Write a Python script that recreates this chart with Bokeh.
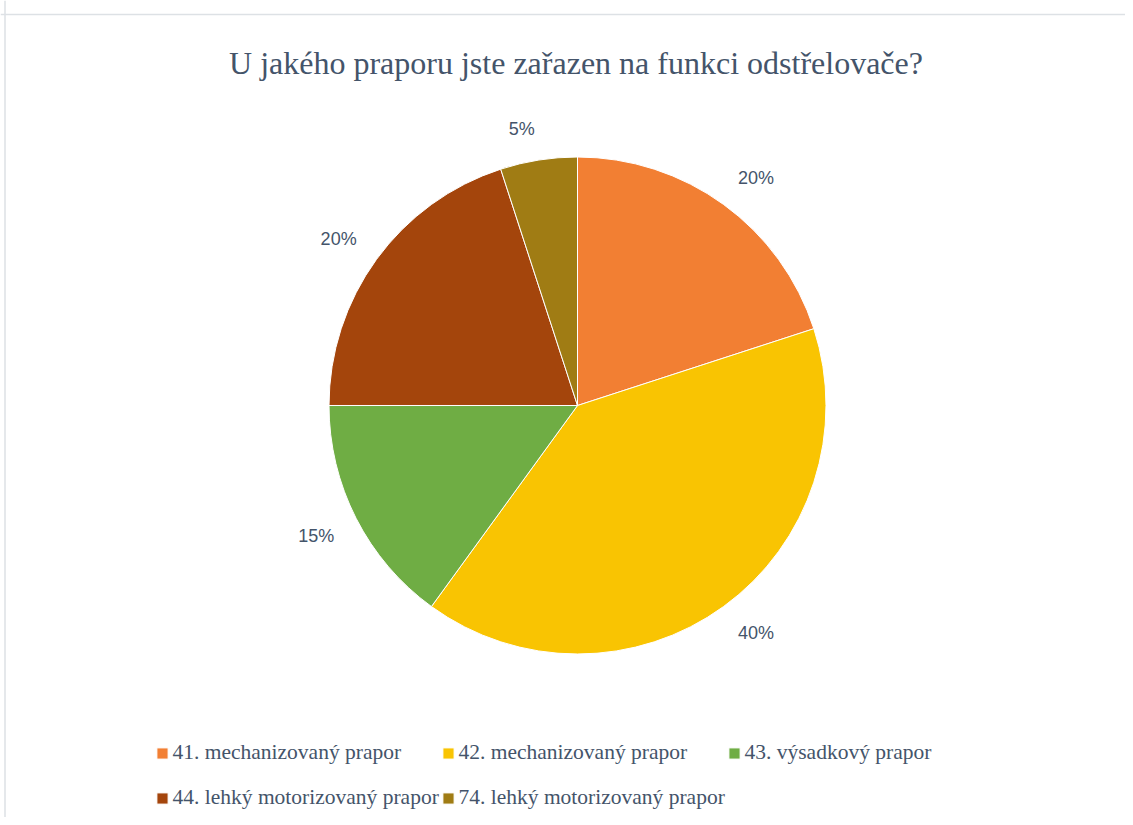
import numpy as np
from bokeh.plotting import figure
from bokeh.models import ColumnDataSource, Range1d, Label, Legend, LegendItem, Span
from bokeh.core.properties import value
from bokeh.embed import file_html
from bokeh.resources import INLINE

# ---- data ----
title_text = "U jakého praporu jste zařazen na funkci odstřelovače?"
categories = [
    "41. mechanizovaný prapor",
    "42. mechanizovaný prapor",
    "43. výsadkový prapor",
    "44. lehký motorizovaný prapor",
    "74. lehký motorizovaný prapor",
]
shares = [20, 40, 15, 20, 5]
colors = ["#F27F33", "#F9C402", "#6FAD44", "#A4450C", "#A07C14"]

TEXT_COLOR = "#44546A"
W, H = 1125, 817

p = figure(width=W, height=H, x_range=Range1d(0, W), y_range=Range1d(0, H),
           x_axis_type=None, y_axis_type=None, toolbar_location=None,
           output_backend="svg", min_border=0)
p.outline_line_color = None
p.background_fill_color = "white"
p.border_fill_color = "white"

# chart border (top and left; the rest is outside the picture)
p.add_layout(Span(location=H - 14, dimension="width", line_color="#DDE1E5", line_width=1.5))
p.add_layout(Span(location=4.5, dimension="height", line_color="#DDE1E5", line_width=1.5))

# title
p.add_layout(Label(x=575.5, y=H - 62, text=title_text, text_align="center", text_baseline="middle",
                   text_font="Liberation Serif", text_font_size="32px", text_color=TEXT_COLOR))

# pie
cx, cy, R = 577, H - 405, 248.5
frac = np.array(shares, dtype=float) / sum(shares)
cum = np.concatenate([[0.0], np.cumsum(frac)])
start = np.pi / 2 - 2 * np.pi * cum[:-1]
end = np.pi / 2 - 2 * np.pi * cum[1:]
mid = (start + end) / 2
pct = [f"{round(v * 100)}%" for v in frac]

src = ColumnDataSource(dict(cat=categories, start=start, end=end, color=colors))
r = p.wedge(x=cx, y=cy, radius=R, start_angle="start", end_angle="end", direction="clock",
            fill_color="color", line_color="white", line_width=1, source=src)

# data labels outside the pie: label box corner anchored on a ring round the pie
fs = 18
tw = np.array([fs * (0.556 * (len(t) - 1) + 0.889) for t in pct])
th = 13.0
anchor = 273
lx = cx + anchor * np.cos(mid) + np.sign(np.cos(mid)) * tw / 2
ly = cy + anchor * np.sin(mid) + np.sign(np.sin(mid)) * th / 2
lsrc = ColumnDataSource(dict(x=lx, y=ly, t=pct))
p.text(x="x", y="y", text="t", source=lsrc, text_align="center", text_baseline="middle",
       text_font=value("Liberation Sans"), text_font_size=f"{fs}px", text_color=TEXT_COLOR)

# legend in two rows, three columns
def make_legend(idx, loc):
    leg = Legend(items=[LegendItem(label=categories[i], renderers=[r], index=i) for i in idx],
                 orientation="horizontal", location=loc,
                 label_text_font="Liberation Serif", label_text_font_size="21.5px",
                 label_text_color=TEXT_COLOR, glyph_width=14, glyph_height=14,
                 label_standoff=4, label_width=268, label_height=24, spacing=0,
                 padding=0, margin=0, border_line_color=None, background_fill_alpha=0)
    p.add_layout(leg, "center")

make_legend([0, 1, 2], (154.5, 52))
make_legend([3, 4], (154.5, 7))

open("out.html", "w").write(file_html(p, INLINE))
